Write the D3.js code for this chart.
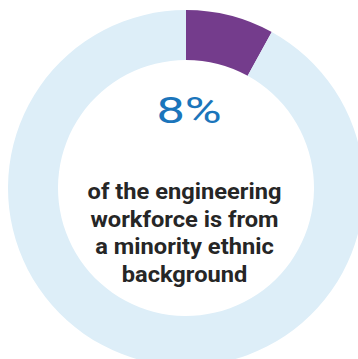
<!DOCTYPE html>
<html>
<head>
<meta charset="utf-8">
<script src="https://cdn.jsdelivr.net/npm/d3@7/dist/d3.min.js"></script>
<style>
  html, body { margin: 0; padding: 0; background: #ffffff; }
  svg { display: block; }
</style>
</head>
<body>
<svg id="chart" width="358" height="359"></svg>
<script>
// Share of the engineering workforce by ethnic background (percent)
const categories = ["Minority ethnic background", "Other"];
const values = [8, 92];
const colors = ["#743c8c", "#ddeef8"];
const headline = "8%";
const captionLines = ["of the engineering", "workforce is from", "a minority ethnic", "background"];

const svg = d3.select("#chart");
const cx = 186, cy = 188;
const outerR = 178, innerR = 128;

const pie = d3.pie().sort(null).value(d => d.value);
const arc = d3.arc().innerRadius(innerR).outerRadius(outerR);
const data = categories.map((c, i) => ({ name: c, value: values[i] }));

const g = svg.append("g").attr("transform", `translate(${cx},${cy})`);
g.selectAll("path")
  .data(pie(data))
  .join("path")
  .attr("d", arc)
  .attr("fill", (d, i) => colors[i]);

// Big percentage figure, set in a wide face
g.append("g")
  .attr("transform", "translate(3,-65) scale(1.38,1)")
  .append("text")
  .attr("text-anchor", "middle")
  .attr("font-family", "Roboto, sans-serif")
  .attr("font-weight", 400)
  .attr("font-size", 36.5)
  .attr("fill", "#1b75bb")
  .text(headline);

// Caption under the figure
const cap = g.append("g").attr("transform", "translate(-1.5,0) scale(1.1,1)");
cap.selectAll("text")
  .data(captionLines)
  .join("text")
  .attr("x", 0)
  .attr("y", (d, i) => 11 + i * 27.7)
  .attr("text-anchor", "middle")
  .attr("font-family", "Roboto, sans-serif")
  .attr("font-weight", 700)
  .attr("font-size", 21.5)
  .attr("fill", "#262626")
  .text(d => d);
</script>
</body>
</html>
